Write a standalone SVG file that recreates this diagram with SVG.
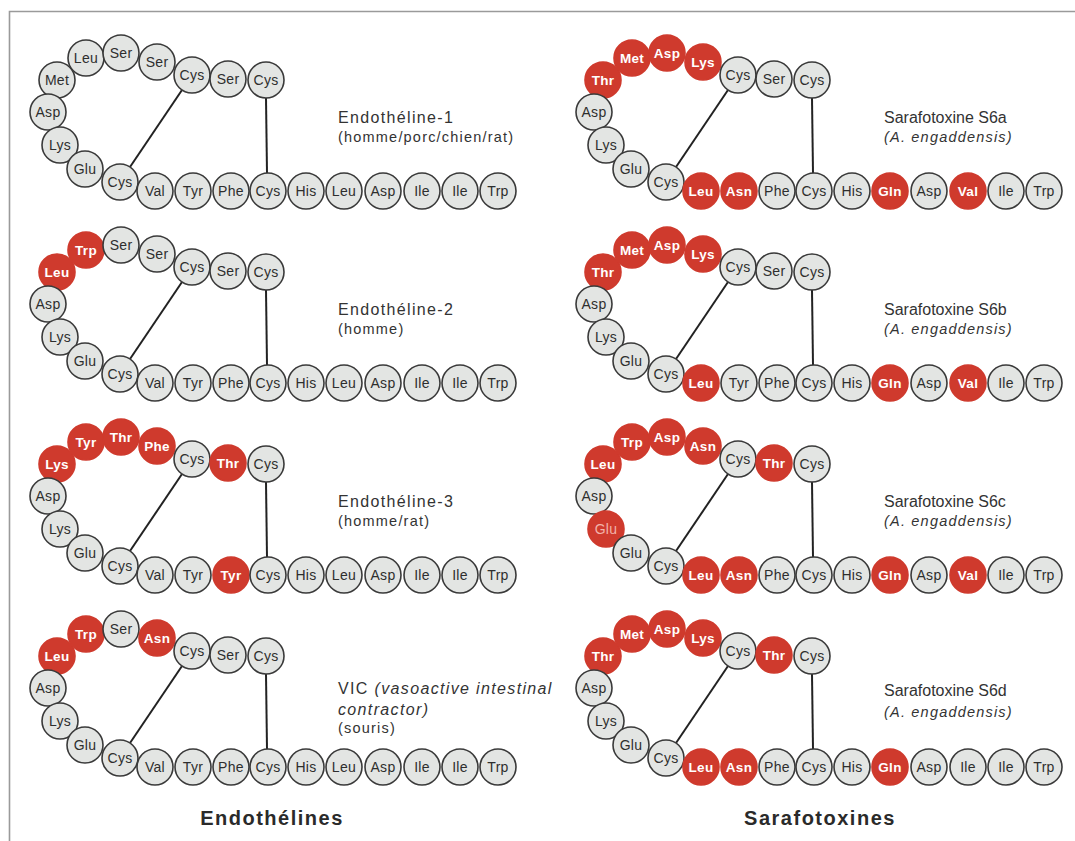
<svg xmlns="http://www.w3.org/2000/svg" width="1075" height="841" viewBox="0 0 1075 841">
  <style>
    .res circle { stroke: #3a3a3a; stroke-width: 1.6; fill: #e3e5e3; }
    .res circle.r { fill: #cf3a2d; stroke: #cf3a2d; }
    .res text { font-family: "Liberation Sans", Arial, sans-serif; font-size: 14px; fill: #2e2e2e; text-anchor: middle; letter-spacing: 0.3px; }
    .res text.r { fill: #ffffff; font-weight: bold; font-size: 13.5px; }
    .res text.p { fill: #f2b3aa; }
    .bond { stroke: #222; stroke-width: 2; fill: none; }
    .res text.name { font-size: 16px; fill: #333; letter-spacing: 1.35px; text-anchor: start; }
    .res text.name.tight { letter-spacing: 0; }
    .res text.sub { font-size: 14.5px; fill: #333; letter-spacing: 1.2px; text-anchor: start; }
    .res text.it, .res tspan.it { font-style: italic; }
    .head { font-family: "Liberation Sans", Arial, sans-serif; font-size: 20px; font-weight: bold; fill: #2a2a2a; text-anchor: middle; letter-spacing: 1.5px; }
    .frame { stroke: #9a9a9a; stroke-width: 1.6; fill: none; }
  </style>
  <rect width="1075" height="841" fill="#ffffff"/>
  <path class="frame" d="M9.5 841 V11.5 H1075"/>

  <!-- disulfide bridges -->
  <g id="connectors">
    <line class="bond" x1="182" y1="90" x2="130" y2="167"/>
    <line class="bond" x1="266" y1="98" x2="267" y2="173"/>
    <line class="bond" x1="182" y1="282" x2="130" y2="359"/>
    <line class="bond" x1="266" y1="290" x2="267" y2="365"/>
    <line class="bond" x1="182" y1="474" x2="130" y2="551"/>
    <line class="bond" x1="266" y1="482" x2="267" y2="557"/>
    <line class="bond" x1="182" y1="666" x2="130" y2="743"/>
    <line class="bond" x1="266" y1="674" x2="267" y2="749"/>
    <line class="bond" x1="728" y1="90" x2="676" y2="167"/>
    <line class="bond" x1="812" y1="98" x2="813" y2="173"/>
    <line class="bond" x1="728" y1="282" x2="676" y2="359"/>
    <line class="bond" x1="812" y1="290" x2="813" y2="365"/>
    <line class="bond" x1="728" y1="474" x2="676" y2="551"/>
    <line class="bond" x1="812" y1="482" x2="813" y2="557"/>
    <line class="bond" x1="728" y1="666" x2="676" y2="743"/>
    <line class="bond" x1="812" y1="674" x2="813" y2="749"/>
  </g>

  <!-- Endothéline-1 -->
  <g id="endotheline-1" class="res">
    <circle cx="57" cy="80" r="18"/><text x="57" y="85">Met</text>
    <circle cx="86" cy="58" r="18"/><text x="86" y="63">Leu</text>
    <circle cx="121" cy="53" r="18"/><text x="121" y="58">Ser</text>
    <circle cx="157" cy="62" r="18"/><text x="157" y="67">Ser</text>
    <circle cx="192" cy="75" r="18"/><text x="192" y="80">Cys</text>
    <circle cx="228" cy="79" r="18"/><text x="228" y="84">Ser</text>
    <circle cx="266" cy="80" r="18"/><text x="266" y="85">Cys</text>
    <circle cx="48" cy="112" r="18"/><text x="48" y="117">Asp</text>
    <circle cx="60" cy="145" r="18"/><text x="60" y="150">Lys</text>
    <circle cx="85" cy="169" r="18"/><text x="85" y="174">Glu</text>
    <circle cx="120" cy="182" r="18"/><text x="120" y="187">Cys</text>
    <circle cx="155" cy="191" r="18"/><text x="155" y="196">Val</text>
    <circle cx="193" cy="191" r="18"/><text x="193" y="196">Tyr</text>
    <circle cx="231" cy="191" r="18"/><text x="231" y="196">Phe</text>
    <circle cx="268" cy="191" r="18"/><text x="268" y="196">Cys</text>
    <circle cx="306" cy="191" r="18"/><text x="306" y="196">His</text>
    <circle cx="344" cy="191" r="18"/><text x="344" y="196">Leu</text>
    <circle cx="383" cy="191" r="18"/><text x="383" y="196">Asp</text>
    <circle cx="422" cy="191" r="18"/><text x="422" y="196">Ile</text>
    <circle cx="460" cy="191" r="18"/><text x="460" y="196">Ile</text>
    <circle cx="498" cy="191" r="18"/><text x="498" y="196">Trp</text>
    <text class="name" x="338" y="123">Endothéline-1</text>
    <text class="sub" x="338" y="142">(homme/porc/chien/rat)</text>
  </g>

  <!-- Endothéline-2 -->
  <g id="endotheline-2" class="res" transform="translate(0,192)">
    <circle class="r" cx="57" cy="80" r="18"/><text class="r" x="57" y="85">Leu</text>
    <circle class="r" cx="86" cy="58" r="18"/><text class="r" x="86" y="63">Trp</text>
    <circle cx="121" cy="53" r="18"/><text x="121" y="58">Ser</text>
    <circle cx="157" cy="62" r="18"/><text x="157" y="67">Ser</text>
    <circle cx="192" cy="75" r="18"/><text x="192" y="80">Cys</text>
    <circle cx="228" cy="79" r="18"/><text x="228" y="84">Ser</text>
    <circle cx="266" cy="80" r="18"/><text x="266" y="85">Cys</text>
    <circle cx="48" cy="112" r="18"/><text x="48" y="117">Asp</text>
    <circle cx="60" cy="145" r="18"/><text x="60" y="150">Lys</text>
    <circle cx="85" cy="169" r="18"/><text x="85" y="174">Glu</text>
    <circle cx="120" cy="182" r="18"/><text x="120" y="187">Cys</text>
    <circle cx="155" cy="191" r="18"/><text x="155" y="196">Val</text>
    <circle cx="193" cy="191" r="18"/><text x="193" y="196">Tyr</text>
    <circle cx="231" cy="191" r="18"/><text x="231" y="196">Phe</text>
    <circle cx="268" cy="191" r="18"/><text x="268" y="196">Cys</text>
    <circle cx="306" cy="191" r="18"/><text x="306" y="196">His</text>
    <circle cx="344" cy="191" r="18"/><text x="344" y="196">Leu</text>
    <circle cx="383" cy="191" r="18"/><text x="383" y="196">Asp</text>
    <circle cx="422" cy="191" r="18"/><text x="422" y="196">Ile</text>
    <circle cx="460" cy="191" r="18"/><text x="460" y="196">Ile</text>
    <circle cx="498" cy="191" r="18"/><text x="498" y="196">Trp</text>
    <text class="name" x="338" y="123">Endothéline-2</text>
    <text class="sub" x="338" y="142">(homme)</text>
  </g>

  <!-- Endothéline-3 -->
  <g id="endotheline-3" class="res" transform="translate(0,384)">
    <circle class="r" cx="57" cy="80" r="18"/><text class="r" x="57" y="85">Lys</text>
    <circle class="r" cx="86" cy="58" r="18"/><text class="r" x="86" y="63">Tyr</text>
    <circle class="r" cx="121" cy="53" r="18"/><text class="r" x="121" y="58">Thr</text>
    <circle class="r" cx="157" cy="62" r="18"/><text class="r" x="157" y="67">Phe</text>
    <circle cx="192" cy="75" r="18"/><text x="192" y="80">Cys</text>
    <circle class="r" cx="228" cy="79" r="18"/><text class="r" x="228" y="84">Thr</text>
    <circle cx="266" cy="80" r="18"/><text x="266" y="85">Cys</text>
    <circle cx="48" cy="112" r="18"/><text x="48" y="117">Asp</text>
    <circle cx="60" cy="145" r="18"/><text x="60" y="150">Lys</text>
    <circle cx="85" cy="169" r="18"/><text x="85" y="174">Glu</text>
    <circle cx="120" cy="182" r="18"/><text x="120" y="187">Cys</text>
    <circle cx="155" cy="191" r="18"/><text x="155" y="196">Val</text>
    <circle cx="193" cy="191" r="18"/><text x="193" y="196">Tyr</text>
    <circle class="r" cx="231" cy="191" r="18"/><text class="r" x="231" y="196">Tyr</text>
    <circle cx="268" cy="191" r="18"/><text x="268" y="196">Cys</text>
    <circle cx="306" cy="191" r="18"/><text x="306" y="196">His</text>
    <circle cx="344" cy="191" r="18"/><text x="344" y="196">Leu</text>
    <circle cx="383" cy="191" r="18"/><text x="383" y="196">Asp</text>
    <circle cx="422" cy="191" r="18"/><text x="422" y="196">Ile</text>
    <circle cx="460" cy="191" r="18"/><text x="460" y="196">Ile</text>
    <circle cx="498" cy="191" r="18"/><text x="498" y="196">Trp</text>
    <text class="name" x="338" y="123">Endothéline-3</text>
    <text class="sub" x="338" y="142">(homme/rat)</text>
  </g>

  <!-- VIC -->
  <g id="vic" class="res" transform="translate(0,576)">
    <circle class="r" cx="57" cy="80" r="18"/><text class="r" x="57" y="85">Leu</text>
    <circle class="r" cx="86" cy="58" r="18"/><text class="r" x="86" y="63">Trp</text>
    <circle cx="121" cy="53" r="18"/><text x="121" y="58">Ser</text>
    <circle class="r" cx="157" cy="62" r="18"/><text class="r" x="157" y="67">Asn</text>
    <circle cx="192" cy="75" r="18"/><text x="192" y="80">Cys</text>
    <circle cx="228" cy="79" r="18"/><text x="228" y="84">Ser</text>
    <circle cx="266" cy="80" r="18"/><text x="266" y="85">Cys</text>
    <circle cx="48" cy="112" r="18"/><text x="48" y="117">Asp</text>
    <circle cx="60" cy="145" r="18"/><text x="60" y="150">Lys</text>
    <circle cx="85" cy="169" r="18"/><text x="85" y="174">Glu</text>
    <circle cx="120" cy="182" r="18"/><text x="120" y="187">Cys</text>
    <circle cx="155" cy="191" r="18"/><text x="155" y="196">Val</text>
    <circle cx="193" cy="191" r="18"/><text x="193" y="196">Tyr</text>
    <circle cx="231" cy="191" r="18"/><text x="231" y="196">Phe</text>
    <circle cx="268" cy="191" r="18"/><text x="268" y="196">Cys</text>
    <circle cx="306" cy="191" r="18"/><text x="306" y="196">His</text>
    <circle cx="344" cy="191" r="18"/><text x="344" y="196">Leu</text>
    <circle cx="383" cy="191" r="18"/><text x="383" y="196">Asp</text>
    <circle cx="422" cy="191" r="18"/><text x="422" y="196">Ile</text>
    <circle cx="460" cy="191" r="18"/><text x="460" y="196">Ile</text>
    <circle cx="498" cy="191" r="18"/><text x="498" y="196">Trp</text>
    <text class="name" x="338" y="118">VIC <tspan class="it">(vasoactive intestinal</tspan></text>
    <text class="name it" x="338" y="139">contractor)</text>
    <text class="sub" x="338" y="157">(souris)</text>
  </g>

  <!-- Sarafotoxine S6a -->
  <g id="sarafotoxine-s6a" class="res" transform="translate(546,0)">
    <circle class="r" cx="57" cy="80" r="18"/><text class="r" x="57" y="85">Thr</text>
    <circle class="r" cx="86" cy="58" r="18"/><text class="r" x="86" y="63">Met</text>
    <circle class="r" cx="121" cy="53" r="18"/><text class="r" x="121" y="58">Asp</text>
    <circle class="r" cx="157" cy="62" r="18"/><text class="r" x="157" y="67">Lys</text>
    <circle cx="192" cy="75" r="18"/><text x="192" y="80">Cys</text>
    <circle cx="228" cy="79" r="18"/><text x="228" y="84">Ser</text>
    <circle cx="266" cy="80" r="18"/><text x="266" y="85">Cys</text>
    <circle cx="48" cy="112" r="18"/><text x="48" y="117">Asp</text>
    <circle cx="60" cy="145" r="18"/><text x="60" y="150">Lys</text>
    <circle cx="85" cy="169" r="18"/><text x="85" y="174">Glu</text>
    <circle cx="120" cy="182" r="18"/><text x="120" y="187">Cys</text>
    <circle class="r" cx="155" cy="191" r="18"/><text class="r" x="155" y="196">Leu</text>
    <circle class="r" cx="193" cy="191" r="18"/><text class="r" x="193" y="196">Asn</text>
    <circle cx="231" cy="191" r="18"/><text x="231" y="196">Phe</text>
    <circle cx="268" cy="191" r="18"/><text x="268" y="196">Cys</text>
    <circle cx="306" cy="191" r="18"/><text x="306" y="196">His</text>
    <circle class="r" cx="344" cy="191" r="18"/><text class="r" x="344" y="196">Gln</text>
    <circle cx="383" cy="191" r="18"/><text x="383" y="196">Asp</text>
    <circle class="r" cx="422" cy="191" r="18"/><text class="r" x="422" y="196">Val</text>
    <circle cx="460" cy="191" r="18"/><text x="460" y="196">Ile</text>
    <circle cx="498" cy="191" r="18"/><text x="498" y="196">Trp</text>
    <text class="name tight" x="338" y="123">Sarafotoxine S6a</text>
    <text class="sub it" x="338" y="142">(A. engaddensis)</text>
  </g>

  <!-- Sarafotoxine S6b -->
  <g id="sarafotoxine-s6b" class="res" transform="translate(546,192)">
    <circle class="r" cx="57" cy="80" r="18"/><text class="r" x="57" y="85">Thr</text>
    <circle class="r" cx="86" cy="58" r="18"/><text class="r" x="86" y="63">Met</text>
    <circle class="r" cx="121" cy="53" r="18"/><text class="r" x="121" y="58">Asp</text>
    <circle class="r" cx="157" cy="62" r="18"/><text class="r" x="157" y="67">Lys</text>
    <circle cx="192" cy="75" r="18"/><text x="192" y="80">Cys</text>
    <circle cx="228" cy="79" r="18"/><text x="228" y="84">Ser</text>
    <circle cx="266" cy="80" r="18"/><text x="266" y="85">Cys</text>
    <circle cx="48" cy="112" r="18"/><text x="48" y="117">Asp</text>
    <circle cx="60" cy="145" r="18"/><text x="60" y="150">Lys</text>
    <circle cx="85" cy="169" r="18"/><text x="85" y="174">Glu</text>
    <circle cx="120" cy="182" r="18"/><text x="120" y="187">Cys</text>
    <circle class="r" cx="155" cy="191" r="18"/><text class="r" x="155" y="196">Leu</text>
    <circle cx="193" cy="191" r="18"/><text x="193" y="196">Tyr</text>
    <circle cx="231" cy="191" r="18"/><text x="231" y="196">Phe</text>
    <circle cx="268" cy="191" r="18"/><text x="268" y="196">Cys</text>
    <circle cx="306" cy="191" r="18"/><text x="306" y="196">His</text>
    <circle class="r" cx="344" cy="191" r="18"/><text class="r" x="344" y="196">Gln</text>
    <circle cx="383" cy="191" r="18"/><text x="383" y="196">Asp</text>
    <circle class="r" cx="422" cy="191" r="18"/><text class="r" x="422" y="196">Val</text>
    <circle cx="460" cy="191" r="18"/><text x="460" y="196">Ile</text>
    <circle cx="498" cy="191" r="18"/><text x="498" y="196">Trp</text>
    <text class="name tight" x="338" y="123">Sarafotoxine S6b</text>
    <text class="sub it" x="338" y="142">(A. engaddensis)</text>
  </g>

  <!-- Sarafotoxine S6c -->
  <g id="sarafotoxine-s6c" class="res" transform="translate(546,384)">
    <circle class="r" cx="57" cy="80" r="18"/><text class="r" x="57" y="85">Leu</text>
    <circle class="r" cx="86" cy="58" r="18"/><text class="r" x="86" y="63">Trp</text>
    <circle class="r" cx="121" cy="53" r="18"/><text class="r" x="121" y="58">Asp</text>
    <circle class="r" cx="157" cy="62" r="18"/><text class="r" x="157" y="67">Asn</text>
    <circle cx="192" cy="75" r="18"/><text x="192" y="80">Cys</text>
    <circle class="r" cx="228" cy="79" r="18"/><text class="r" x="228" y="84">Thr</text>
    <circle cx="266" cy="80" r="18"/><text x="266" y="85">Cys</text>
    <circle cx="48" cy="112" r="18"/><text x="48" y="117">Asp</text>
    <circle class="r" cx="60" cy="145" r="18"/><text class="p" x="60" y="150">Glu</text>
    <circle cx="85" cy="169" r="18"/><text x="85" y="174">Glu</text>
    <circle cx="120" cy="182" r="18"/><text x="120" y="187">Cys</text>
    <circle class="r" cx="155" cy="191" r="18"/><text class="r" x="155" y="196">Leu</text>
    <circle class="r" cx="193" cy="191" r="18"/><text class="r" x="193" y="196">Asn</text>
    <circle cx="231" cy="191" r="18"/><text x="231" y="196">Phe</text>
    <circle cx="268" cy="191" r="18"/><text x="268" y="196">Cys</text>
    <circle cx="306" cy="191" r="18"/><text x="306" y="196">His</text>
    <circle class="r" cx="344" cy="191" r="18"/><text class="r" x="344" y="196">Gln</text>
    <circle cx="383" cy="191" r="18"/><text x="383" y="196">Asp</text>
    <circle class="r" cx="422" cy="191" r="18"/><text class="r" x="422" y="196">Val</text>
    <circle cx="460" cy="191" r="18"/><text x="460" y="196">Ile</text>
    <circle cx="498" cy="191" r="18"/><text x="498" y="196">Trp</text>
    <text class="name tight" x="338" y="123">Sarafotoxine S6c</text>
    <text class="sub it" x="338" y="142">(A. engaddensis)</text>
  </g>

  <!-- Sarafotoxine S6d -->
  <g id="sarafotoxine-s6d" class="res" transform="translate(546,576)">
    <circle class="r" cx="57" cy="80" r="18"/><text class="r" x="57" y="85">Thr</text>
    <circle class="r" cx="86" cy="58" r="18"/><text class="r" x="86" y="63">Met</text>
    <circle class="r" cx="121" cy="53" r="18"/><text class="r" x="121" y="58">Asp</text>
    <circle class="r" cx="157" cy="62" r="18"/><text class="r" x="157" y="67">Lys</text>
    <circle cx="192" cy="75" r="18"/><text x="192" y="80">Cys</text>
    <circle class="r" cx="228" cy="79" r="18"/><text class="r" x="228" y="84">Thr</text>
    <circle cx="266" cy="80" r="18"/><text x="266" y="85">Cys</text>
    <circle cx="48" cy="112" r="18"/><text x="48" y="117">Asp</text>
    <circle cx="60" cy="145" r="18"/><text x="60" y="150">Lys</text>
    <circle cx="85" cy="169" r="18"/><text x="85" y="174">Glu</text>
    <circle cx="120" cy="182" r="18"/><text x="120" y="187">Cys</text>
    <circle class="r" cx="155" cy="191" r="18"/><text class="r" x="155" y="196">Leu</text>
    <circle class="r" cx="193" cy="191" r="18"/><text class="r" x="193" y="196">Asn</text>
    <circle cx="231" cy="191" r="18"/><text x="231" y="196">Phe</text>
    <circle cx="268" cy="191" r="18"/><text x="268" y="196">Cys</text>
    <circle cx="306" cy="191" r="18"/><text x="306" y="196">His</text>
    <circle class="r" cx="344" cy="191" r="18"/><text class="r" x="344" y="196">Gln</text>
    <circle cx="383" cy="191" r="18"/><text x="383" y="196">Asp</text>
    <circle cx="422" cy="191" r="18"/><text x="422" y="196">Ile</text>
    <circle cx="460" cy="191" r="18"/><text x="460" y="196">Ile</text>
    <circle cx="498" cy="191" r="18"/><text x="498" y="196">Trp</text>
    <text class="name tight" x="338" y="120">Sarafotoxine S6d</text>
    <text class="sub it" x="338" y="141">(A. engaddensis)</text>
  </g>

  <!-- column headings -->
  <text class="head" x="272" y="825">Endothélines</text>
  <text class="head" x="820" y="825">Sarafotoxines</text>
</svg>
